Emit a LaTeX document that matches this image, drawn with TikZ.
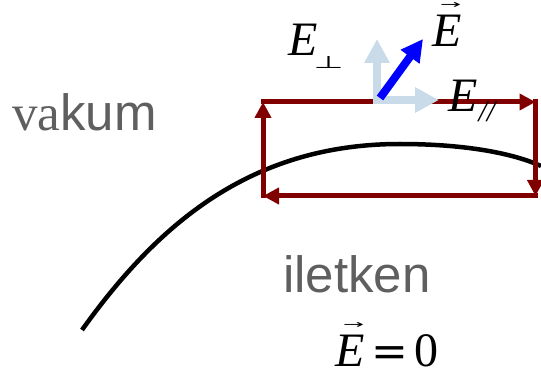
\documentclass[tikz,border=0pt]{standalone}
\usepackage{fontspec}
\setmainfont{Liberation Serif}
\newfontfamily\arialf{Liberation Sans}
\newfontfamily\dejavu{DejaVu Sans}
\newfontfamily\dejavuserif{DejaVu Serif}
\usepackage{graphicx}
\usetikzlibrary{arrows.meta}
\definecolor{loopred}{HTML}{800000}
\definecolor{paleblue}{HTML}{C9DBE8}
\definecolor{txtgray}{HTML}{5F5F5F}
\newcommand\myvecE{\leavevmode\hbox{\rlap{\kern8pt\raisebox{38pt}{\resizebox{21pt}{6pt}{\dejavu →}}}\textit{E}}}
\begin{document}
\begin{tikzpicture}[x=1pt,y=-1pt,
  lbl/.style={inner sep=0pt, anchor=base west, font=\fontsize{48}{50}\selectfont},
  word/.style={inner sep=0pt, anchor=base west, text=txtgray, font=\fontsize{51}{53}\selectfont},
  side/.style={draw=loopred, line width=5pt, line cap=rect, -{Triangle[length=16pt,width=16pt]}},
  comp/.style={draw=paleblue, line width=8pt, -{Triangle[length=24pt,width=24pt]}},
  field/.style={draw=blue, line width=8pt, -{Triangle[length=22pt,width=22pt]}},
  surface/.style={draw=black, line width=4.5pt},
]
\useasboundingbox (0,0) rectangle (541,374);
% conductor surface
\draw[surface] (82,330) .. controls (157,225) and (250,144) .. (400,144)
                        .. controls (460,144) and (510,152) .. (541,166);
% closed loop
\coordinate (tl) at (263,102);
\coordinate (tr) at (535.5,102);
\coordinate (br) at (535.5,196);
\coordinate (bl) at (263,196);
\draw[side] (tl) -- (tr);
\draw[side] (tr) -- (br);
\draw[side] (br) -- (bl);
\draw[side] (bl) -- (tl);
% field components
\coordinate (ptop) at (377,39);
\coordinate (pright) at (439,100);
\coordinate (fstart) at (380,98);
\coordinate (ftip) at (423,39);
\draw[comp] (377,104) -- (ptop);
\draw[comp] (373,100) -- (pright);
\draw[field] (fstart) -- (ftip);
% labels
\node[lbl] (eperp) at (288,56) {\textit{E}\kern-4pt\raisebox{-13pt}{\resizebox{30pt}{12pt}{\dejavu ⊥}}};
\node[lbl] (evec) at (432,47) {\myvecE};
\node[lbl] (epar) at (448,112) {\textit{E}\kern1pt\raisebox{-10pt}{\fontsize{30}{30}\selectfont\textit{//}}};
\node[lbl] (ezero) at (335,366) {\myvecE\kern7pt{\dejavuserif\fontsize{44}{44}\selectfont=}\kern6pt0};
\node[word] (vac) at (12,131) {va{\arialf kum}};
\node[word, font=\arialf\fontsize{51}{53}\selectfont] (cond) at (283,292) {iletken};
\end{tikzpicture}
\end{document}
